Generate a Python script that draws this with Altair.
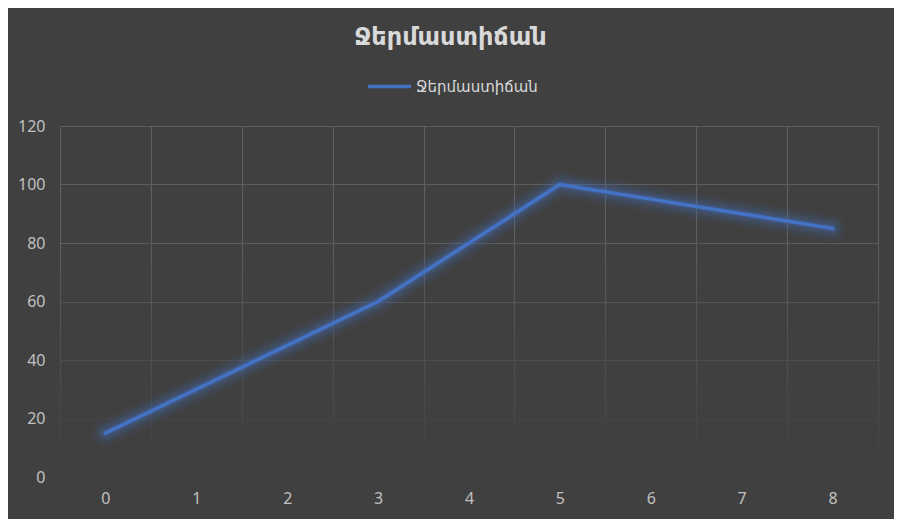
import altair as alt
import pandas as pd

categories = [0, 1, 2, 3, 4, 5, 6, 7, 8]
values = [15, 30, 45, 60, 80, 100, 95, 90, 85]
series_name = "Ջերմաստիճան"
y_ticks = [0, 20, 40, 60, 80, 100, 120]

df = pd.DataFrame({"x": categories, "y": values, "series": [series_name] * len(categories)})

W, H = 818, 351
FONT = "Noto Sans, DejaVu Sans, sans-serif"
BG = "#404040"
GRID = "#5e5e5e"
LINE = "#4472C4"

step = W / len(categories)
grid_vals = [c - 0.5 for c in categories] + [categories[-1] + 0.5]

x_enc = alt.X(
    "x:Q",
    scale=alt.Scale(domain=[categories[0] - 0.5, categories[-1] + 0.5], nice=False, zero=False),
    axis=alt.Axis(
        values=grid_vals,
        labelExpr=f"datum.value < {categories[-1]} ? format(datum.value + 0.5, 'd') : ''",
        labelOffset=step / 2,
        labelOverlap=False,
        labelFlush=False,
        labelBound=False,
        ticks=False,
        domain=False,
        grid=True,
        gridColor=GRID,
        gridWidth=1.2,
        labelPadding=13,
        labelFontSize=16,
        labelColor="#c0c0c0",
        labelFont=FONT,
        title=None,
    ),
)
y_enc = alt.Y(
    "y:Q",
    scale=alt.Scale(domain=[0, 120], nice=False),
    axis=alt.Axis(
        values=y_ticks,
        ticks=False,
        domain=False,
        grid=True,
        gridColor=GRID,
        gridWidth=1.2,
        labelPadding=15,
        labelFontSize=16,
        labelColor="#c0c0c0",
        labelFont=FONT,
        title=None,
    ),
)

base = alt.Chart(df).encode(x=x_enc, y=y_enc)

fade = alt.Gradient(
    gradient="linear",
    stops=[
        alt.GradientStop(offset=0, color="rgba(64,64,64,0)"),
        alt.GradientStop(offset=0.3, color="rgba(64,64,64,0)"),
        alt.GradientStop(offset=0.97, color="rgba(64,64,64,1)"),
        alt.GradientStop(offset=1, color="rgba(64,64,64,1)"),
    ],
    x1=0, x2=0, y1=0, y2=1,
)
overlay = alt.Chart(pd.DataFrame({"a": [0]})).mark_rect(fill=fade).encode(
    x=alt.value(-1), x2=alt.value(W + 1), y=alt.value(0), y2=alt.value(H + 2)
)

glows = [
    base.mark_line(color=LINE, strokeWidth=w, opacity=o, strokeCap="round", strokeJoin="round")
    for w, o in [(26, 0.06), (20, 0.08), (15, 0.11), (10, 0.15), (6.5, 0.22)]
]

main = base.mark_line(strokeWidth=3.5, strokeCap="round", strokeJoin="round").encode(
    color=alt.Color(
        "series:N",
        scale=alt.Scale(domain=[series_name], range=[LINE]),
        legend=alt.Legend(
            orient="none",
            legendX=306,
            legendY=-63,
            title=None,
            symbolType="stroke",
            symbolSize=1849,
            symbolStrokeWidth=3.5,
            labelFontSize=15,
            labelColor="#d9d9d9",
            labelFont=FONT,
            labelOffset=3,
            padding=0,
        ),
    )
)

chart = alt.layer(overlay, *glows, main).properties(
    width=W,
    height=H,
    title=alt.TitleParams(
        text=series_name,
        fontSize=24,
        fontWeight="bold",
        color="#d9d9d9",
        font=FONT,
        anchor="middle",
        frame="bounds",
        offset=13,
        dx=-20,
    ),
    autosize=alt.AutoSizeParams(type="none"),
    padding={"left": 52, "top": 118, "right": 16, "bottom": 42},
    background=BG,
).configure_view(stroke=None)

chart.save("out.html", embed_options={"renderer": "svg", "actions": False})
